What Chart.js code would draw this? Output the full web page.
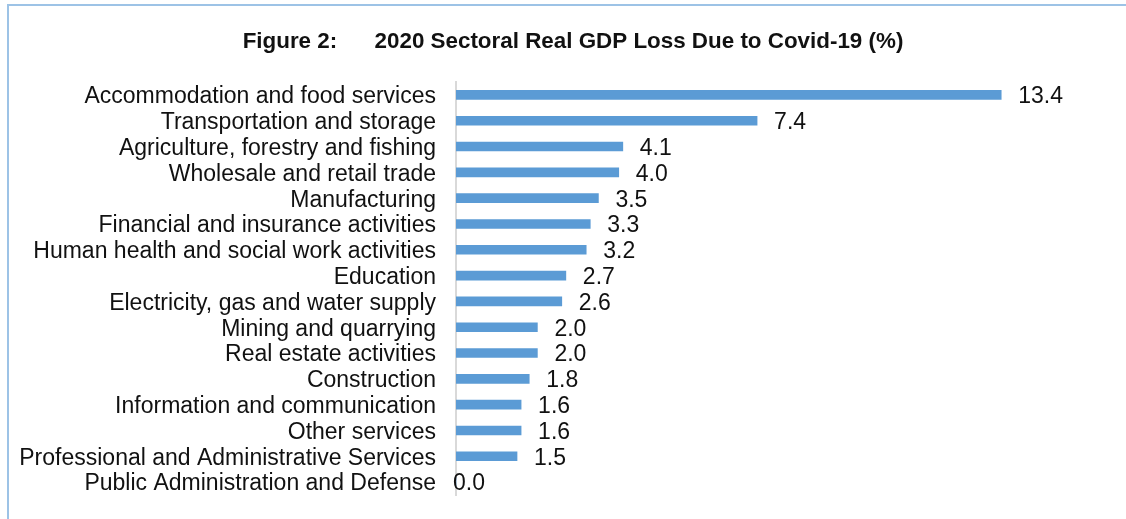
<!DOCTYPE html>
<html>
<head>
<meta charset="utf-8">
<script src="https://cdn.jsdelivr.net/npm/chart.js@4/dist/chart.umd.min.js"></script>
<style>
  html, body { margin: 0; padding: 0; background: #fff; }
  #wrap { position: relative; width: 1126px; height: 519px; }
  #frame {
    position: absolute; left: 7px; top: 4px; right: 0; bottom: 0;
    border-top: 2px solid #9dc3e6; border-left: 2px solid #9dc3e6;
    pointer-events: none;
  }
  canvas { position: absolute; left: 0; top: 0; }
</style>
</head>
<body>
<div id="wrap">
  <canvas id="chart" width="1126" height="519"></canvas>
  <div id="frame"></div>
</div>
<script>
const sectors = [
  'Accommodation and food services',
  'Transportation and storage',
  'Agriculture, forestry and fishing',
  'Wholesale and retail trade',
  'Manufacturing',
  'Financial and insurance activities',
  'Human health and social work activities',
  'Education',
  'Electricity, gas and water supply',
  'Mining and quarrying',
  'Real estate activities',
  'Construction',
  'Information and communication',
  'Other services',
  'Professional and Administrative Services',
  'Public Administration and Defense'
];
const gdpLoss = [13.4, 7.4, 4.1, 4.0, 3.5, 3.3, 3.2, 2.7, 2.6, 2.0, 2.0, 1.8, 1.6, 1.6, 1.5, 0.0];
const titleText = 'Figure 2:      2020 Sectoral Real GDP Loss Due to Covid-19 (%)';

const FONT = '"Liberation Sans", Arial, sans-serif';
const AXIS_LEFT = 456;

// heading above the plot, centred a little right of the canvas middle
const heading = {
  id: 'heading',
  afterDraw(chart) {
    const ctx = chart.ctx;
    ctx.save();
    ctx.font = 'bold 22.4px ' + FONT;
    ctx.fillStyle = '#111';
    ctx.textAlign = 'center';
    ctx.textBaseline = 'middle';
    ctx.fillText(titleText, 573, 42);
    ctx.restore();
  }
};

// value printed just past the end of each bar
const valueLabels = {
  id: 'valueLabels',
  afterDatasetsDraw(chart) {
    const ctx = chart.ctx;
    const meta = chart.getDatasetMeta(0);
    ctx.save();
    ctx.font = '23px ' + FONT;
    ctx.fillStyle = '#111';
    ctx.textAlign = 'left';
    ctx.textBaseline = 'middle';
    meta.data.forEach((bar, i) => {
      const v = gdpLoss[i];
      const x = v > 0 ? bar.x + 17 : bar.x - 3;
      ctx.fillText(v.toFixed(1), x, bar.y + 2);
    });
    ctx.restore();
  }
};

new Chart(document.getElementById('chart'), {
  type: 'bar',
  data: {
    labels: sectors,
    datasets: [{
      data: gdpLoss,
      backgroundColor: '#5b9bd5',
      barThickness: 9
    }]
  },
  options: {
    indexAxis: 'y',
    responsive: false,
    animation: false,
    layout: { padding: { left: 0, right: 19, top: 82, bottom: 24 } },
    plugins: {
      legend: { display: false },
      tooltip: { enabled: false },
      title: { display: false }
    },
    scales: {
      x: { display: false, min: 0, max: 16 },
      y: {
        afterFit(scale) {
          // fixed label column; the tick padding should not eat into the plot height
          scale.width = AXIS_LEFT;
          scale.paddingTop = 0;
          scale.paddingBottom = 0;
        },
        grid: { display: false, drawTicks: false },
        border: { display: true, color: '#d9d9d9', width: 2 },
        ticks: {
          autoSkip: false,
          color: '#111',
          padding: 20,
          labelOffset: 2,
          font: { family: FONT, size: 23 }
        }
      }
    }
  },
  plugins: [valueLabels, heading]
});
</script>
</body>
</html>
